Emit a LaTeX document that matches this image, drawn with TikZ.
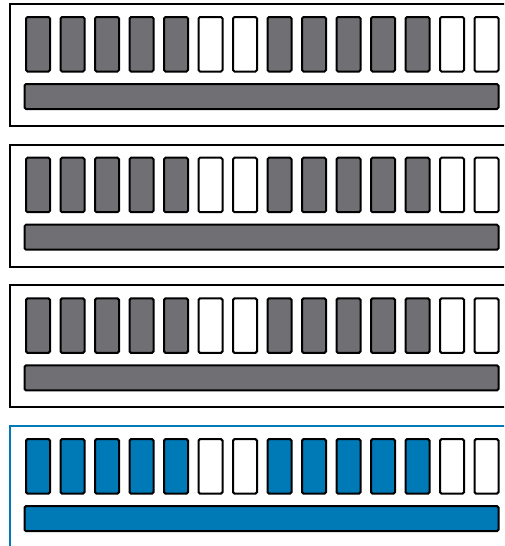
\documentclass[tikz,border=0pt]{standalone}
\definecolor{slotgray}{RGB}{112,111,115}
\definecolor{slotblue}{RGB}{0,122,183}
\begin{document}
\begin{tikzpicture}[x=1pt,y=-1pt,
  slotbox/.style={draw=black,line width=2pt,rounded corners=1.5pt},
  panelbox/.style={draw=black,line width=2pt}]
\useasboundingbox (0,0) rectangle (504,546);
\clip (0,0) rectangle (504,546);
\foreach \p in {0,1,2,3}{
  \pgfmathsetmacro{\oy}{\p*140.7}
  \ifnum\p=3
    \def\fc{slotblue}
    \draw[draw=slotblue,line width=1.6pt] (10,4+\oy) rectangle (520,560);
  \else
    \def\fc{slotgray}
    \draw[panelbox] (10,4+\oy) rectangle (520,126+\oy);
  \fi
  \foreach \i in {0,...,13}{
    \pgfmathsetmacro{\sx}{26+\i*34.5}
    \ifnum\i=5 \def\sf{white}\else\ifnum\i=6 \def\sf{white}\else\ifnum\i>11 \def\sf{white}\else\edef\sf{\fc}\fi\fi\fi
    \draw[slotbox,fill=\sf] (\sx,17+\oy) rectangle (\sx+24,71.5+\oy);
  }
  \draw[slotbox,fill=\fc] (24.5,84+\oy) rectangle (498.5,109+\oy);
}
\end{tikzpicture}
\end{document}
